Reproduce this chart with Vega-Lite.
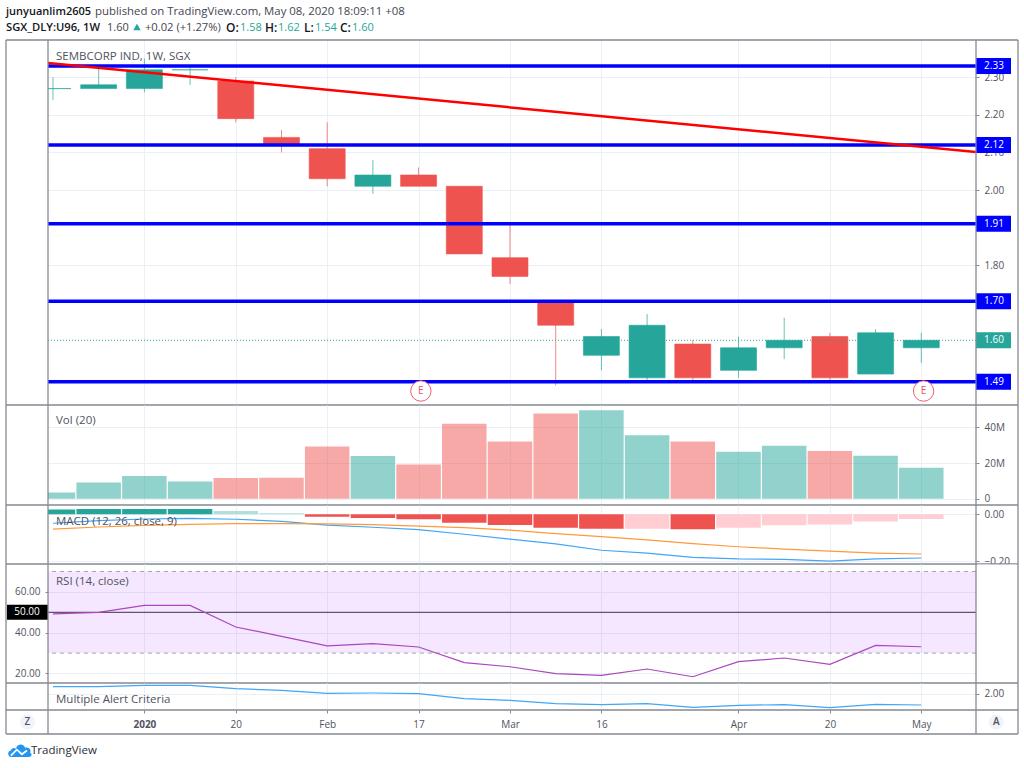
{
  "$schema": "https://vega.github.io/schema/vega-lite/v6.json",
  "padding": {"left": -1, "top": 0, "right": 0, "bottom": 0},
  "background": "white",
  "spacing": 0,
  "bounds": "flush",
  "config": {
    "font": "Open Sans",
    "view": {"stroke": null},
    "scale": {"continuousPadding": 0},
    "axis": {
      "title": null, "labels": false, "ticks": false, "domain": false, "grid": false,
      "gridColor": "#e9f0f6", "gridWidth": 1,
      "labelFont": "Open Sans", "labelFontSize": 10, "labelColor": "#50535e",
      "tickColor": "#868993", "tickSize": 3, "labelPadding": 5, "labelOverlap": false, "labelFlush": false
    },
    "axisX": {"labelPadding": 6}
  },
  "datasets": {
    "one": [{}],
    "bars": [
      {"bar": 0, "date": "2019-12-23", "open": 2.27, "high": 2.30, "low": 2.24, "close": 2.27, "dir": "up", "volume": 3.5, "hist": 0.02, "shade": "up", "macd": -0.038, "signal": -0.063, "rsi": 49.2, "alert": 2.35},
      {"bar": 1, "date": "2019-12-30", "open": 2.27, "high": 2.33, "low": 2.27, "close": 2.28, "dir": "up", "volume": 9.1, "hist": 0.0225, "shade": "up", "macd": -0.027, "signal": -0.054, "rsi": 50.0, "alert": 2.35},
      {"bar": 2, "date": "2020-01-06", "open": 2.27, "high": 2.35, "low": 2.26, "close": 2.32, "dir": "up", "volume": 12.7, "hist": 0.0225, "shade": "up", "macd": -0.02, "signal": -0.047, "rsi": 53.4, "alert": 2.42},
      {"bar": 3, "date": "2020-01-13", "open": 2.32, "high": 2.33, "low": 2.28, "close": 2.32, "dir": "up", "volume": 9.7, "hist": 0.0225, "shade": "up", "macd": -0.017, "signal": -0.043, "rsi": 53.4, "alert": 2.42},
      {"bar": 4, "date": "2020-01-20", "open": 2.29, "high": 2.30, "low": 2.18, "close": 2.19, "dir": "down", "volume": 11.6, "hist": 0.014, "shade": "up-weak", "macd": -0.021, "signal": -0.04, "rsi": 42.8, "alert": 2.25},
      {"bar": 5, "date": "2020-01-27", "open": 2.14, "high": 2.16, "low": 2.10, "close": 2.12, "dir": "down", "volume": 11.8, "hist": 0.005, "shade": "up-weak", "macd": -0.03, "signal": -0.04, "rsi": 38.2, "alert": 2.17},
      {"bar": 6, "date": "2020-02-03", "open": 2.11, "high": 2.18, "low": 2.01, "close": 2.03, "dir": "down", "volume": 29.3, "hist": -0.01, "shade": "down", "macd": -0.046, "signal": -0.041, "rsi": 33.5, "alert": 2.02},
      {"bar": 7, "date": "2020-02-10", "open": 2.01, "high": 2.08, "low": 1.99, "close": 2.04, "dir": "up", "volume": 23.9, "hist": -0.016, "shade": "down", "macd": -0.055, "signal": -0.044, "rsi": 34.6, "alert": 2.035},
      {"bar": 8, "date": "2020-02-17", "open": 2.04, "high": 2.06, "low": 2.01, "close": 2.01, "dir": "down", "volume": 19.2, "hist": -0.021, "shade": "down", "macd": -0.065, "signal": -0.05, "rsi": 33.0, "alert": 2.0},
      {"bar": 9, "date": "2020-02-24", "open": 2.01, "high": 2.01, "low": 1.83, "close": 1.83, "dir": "down", "volume": 42.0, "hist": -0.036, "shade": "down", "macd": -0.085, "signal": -0.057, "rsi": 25.3, "alert": 1.75},
      {"bar": 10, "date": "2020-03-02", "open": 1.82, "high": 1.91, "low": 1.75, "close": 1.77, "dir": "down", "volume": 32.1, "hist": -0.045, "shade": "down", "macd": -0.106, "signal": -0.067, "rsi": 23.3, "alert": 1.67},
      {"bar": 11, "date": "2020-03-09", "open": 1.70, "high": 1.70, "low": 1.48, "close": 1.64, "dir": "down", "volume": 47.8, "hist": -0.057, "shade": "down", "macd": -0.126, "signal": -0.082, "rsi": 19.9, "alert": 1.5},
      {"bar": 12, "date": "2020-03-16", "open": 1.56, "high": 1.63, "low": 1.52, "close": 1.61, "dir": "up", "volume": 49.5, "hist": -0.062, "shade": "down", "macd": -0.153, "signal": -0.095, "rsi": 19.1, "alert": 1.45},
      {"bar": 13, "date": "2020-03-23", "open": 1.50, "high": 1.67, "low": 1.49, "close": 1.64, "dir": "up", "volume": 35.5, "hist": -0.061, "shade": "down-weak", "macd": -0.165, "signal": -0.109, "rsi": 22.2, "alert": 1.5},
      {"bar": 14, "date": "2020-03-30", "open": 1.59, "high": 1.60, "low": 1.49, "close": 1.50, "dir": "down", "volume": 32.1, "hist": -0.064, "shade": "down", "macd": -0.183, "signal": -0.125, "rsi": 18.4, "alert": 1.32},
      {"bar": 15, "date": "2020-04-06", "open": 1.52, "high": 1.61, "low": 1.50, "close": 1.58, "dir": "up", "volume": 26.3, "hist": -0.057, "shade": "down-weak", "macd": -0.19, "signal": -0.138, "rsi": 25.8, "alert": 1.42},
      {"bar": 16, "date": "2020-04-13", "open": 1.58, "high": 1.66, "low": 1.55, "close": 1.60, "dir": "up", "volume": 29.7, "hist": -0.047, "shade": "down-weak", "macd": -0.192, "signal": -0.148, "rsi": 27.6, "alert": 1.45},
      {"bar": 17, "date": "2020-04-20", "open": 1.61, "high": 1.62, "low": 1.49, "close": 1.50, "dir": "down", "volume": 26.7, "hist": -0.043, "shade": "down-weak", "macd": -0.199, "signal": -0.157, "rsi": 24.5, "alert": 1.3},
      {"bar": 18, "date": "2020-04-27", "open": 1.51, "high": 1.63, "low": 1.51, "close": 1.62, "dir": "up", "volume": 24.1, "hist": -0.031, "shade": "down-weak", "macd": -0.19, "signal": -0.165, "rsi": 33.8, "alert": 1.47},
      {"bar": 19, "date": "2020-05-04", "open": 1.58, "high": 1.62, "low": 1.54, "close": 1.60, "dir": "up", "volume": 17.4, "hist": -0.02, "shade": "down-weak", "macd": -0.186, "signal": -0.169, "rsi": 33.1, "alert": 1.435}
    ],
    "levels": [{"level": 2.33}, {"level": 2.12}, {"level": 1.91}, {"level": 1.704}, {"level": 1.49}],
    "trend": [{"bar": -0.109, "price": 2.338}, {"bar": 20.197, "price": 2.101}],
    "earnings": [{"bar": 8.05, "price": 1.465, "label": "E"}, {"bar": 19.05, "price": 1.465, "label": "E"}]
  },
  "vconcat": [
    {
      "width": 928, "height": 40,
      "data": {"name": "one"},
      "layer": [
        {"mark": {"type": "text", "align": "left", "fontWeight": 600, "fontSize": 11, "color": "#131722"}, "encoding": {
          "x": {"datum": -1.028, "scale": {"domain": [-0.109, 20.197], "nice": false, "zero": false}},
          "y": {"datum": 11.5, "scale": {"domain": [40, 0], "nice": false, "zero": false}},
          "text": {"value": "junyuanlim2605"}}},
        {"mark": {"type": "text", "align": "left", "fontSize": 11.4, "color": "#434651"}, "encoding": {"x": {"datum": 0.919}, "y": {"datum": 11.5}, "text": {"value": "published on TradingView.com, May 08, 2020 18:09:11 +08"}}},
        {"mark": {"type": "text", "align": "left", "fontWeight": 600, "fontSize": 11.2, "color": "#131722"}, "encoding": {"x": {"datum": -1.028}, "y": {"datum": 27.5}, "text": {"value": "SGX_DLY:U96, 1W"}}},
        {"mark": {"type": "text", "align": "left", "fontSize": 11, "color": "#434651"}, "encoding": {"x": {"datum": 1.182}, "y": {"datum": 27.5}, "text": {"value": "1.60"}}},
        {"mark": {"type": "point", "shape": "triangle-up", "filled": true, "size": 55, "opacity": 1, "color": "#26a69a"}, "encoding": {"x": {"datum": 1.838}, "y": {"datum": 27}}},
        {"mark": {"type": "text", "align": "left", "fontSize": 11.2, "color": "#434651"}, "encoding": {"x": {"datum": 2.013}, "y": {"datum": 27.5}, "text": {"value": "+0.02 (+1.27%)"}}},
        {"mark": {"type": "text", "align": "left", "fontWeight": 600, "fontSize": 12, "color": "#131722"}, "encoding": {"x": {"datum": 3.786}, "y": {"datum": 27.5}, "text": {"value": "O:"}}},
        {"mark": {"type": "text", "align": "left", "fontSize": 11, "color": "#26a69a"}, "encoding": {"x": {"datum": 4.092}, "y": {"datum": 27.5}, "text": {"value": "1.58"}}},
        {"mark": {"type": "text", "align": "left", "fontWeight": 600, "fontSize": 12, "color": "#131722"}, "encoding": {"x": {"datum": 4.639}, "y": {"datum": 27.5}, "text": {"value": "H:"}}},
        {"mark": {"type": "text", "align": "left", "fontSize": 11, "color": "#26a69a"}, "encoding": {"x": {"datum": 4.923}, "y": {"datum": 27.5}, "text": {"value": "1.62"}}},
        {"mark": {"type": "text", "align": "left", "fontWeight": 600, "fontSize": 12, "color": "#131722"}, "encoding": {"x": {"datum": 5.492}, "y": {"datum": 27.5}, "text": {"value": "L:"}}},
        {"mark": {"type": "text", "align": "left", "fontSize": 11, "color": "#26a69a"}, "encoding": {"x": {"datum": 5.733}, "y": {"datum": 27.5}, "text": {"value": "1.54"}}},
        {"mark": {"type": "text", "align": "left", "fontWeight": 600, "fontSize": 12, "color": "#131722"}, "encoding": {"x": {"datum": 6.28}, "y": {"datum": 27.5}, "text": {"value": "C:"}}},
        {"mark": {"type": "text", "align": "left", "fontSize": 11, "color": "#26a69a"}, "encoding": {"x": {"datum": 6.543}, "y": {"datum": 27.5}, "text": {"value": "1.60"}}}
      ]
    },
    {
      "width": 928, "height": 365,
      "layer": [
        {"data": {"name": "bars"}, "mark": {"type": "rule", "strokeWidth": 1, "opacity": 0.7}, "encoding": {
          "x": {"field": "bar", "type": "quantitative", "scale": {"domain": [-0.109, 20.197], "nice": false, "zero": false},
            "axis": {"grid": true, "title": null, "values": [2, 4, 6, 8, 10, 12, 15, 17, 19]}},
          "y": {"field": "low", "type": "quantitative", "scale": {"domain": [1.4278, 2.3993], "nice": false, "zero": false},
            "axis": {"orient": "right", "title": null, "grid": true, "labels": true, "ticks": true, "format": ".2f", "values": [1.8, 2.0, 2.1, 2.2, 2.3]}},
          "y2": {"field": "high"},
          "color": {"field": "dir", "type": "nominal", "legend": null, "scale": {"domain": ["up", "down", "up-weak", "down-weak"], "range": ["#26a69a", "#ef5350", "#b2dfdb", "#ffcdd2"]}}}},
        {"data": {"name": "bars"}, "mark": {"type": "bar", "width": 36, "clip": true, "strokeWidth": 1, "strokeOpacity": 0.6}, "encoding": {
          "x": {"field": "bar", "type": "quantitative"},
          "y": {"field": "open", "type": "quantitative"},
          "y2": {"field": "close"},
          "color": {"field": "dir", "type": "nominal", "legend": null},
          "stroke": {"field": "dir", "type": "nominal", "legend": null, "scale": {"domain": ["up", "down"], "range": ["#26a69a", "#ef5350"]}}}},
        {"data": {"name": "one"}, "mark": {"type": "rule", "color": "#26a69a", "strokeWidth": 1, "strokeDash": [1, 2]}, "encoding": {"y": {"datum": 1.6}}},
        {"data": {"name": "levels"}, "mark": {"type": "rule", "color": "#0000ff", "strokeWidth": 3.5}, "encoding": {"y": {"field": "level", "type": "quantitative"}}},
        {"data": {"name": "trend"}, "mark": {"type": "line", "color": "#ff0000", "strokeWidth": 2.5}, "encoding": {"x": {"field": "bar", "type": "quantitative"}, "y": {"field": "price", "type": "quantitative"}}},
        {"data": {"name": "earnings"}, "mark": {"type": "point", "filled": true, "fill": "white", "stroke": "#f4606c", "strokeWidth": 1, "size": 415, "opacity": 1}, "encoding": {"x": {"field": "bar", "type": "quantitative"}, "y": {"field": "price", "type": "quantitative"}}},
        {"data": {"name": "earnings"}, "mark": {"type": "text", "color": "#ef5350", "fontSize": 10}, "encoding": {"x": {"field": "bar", "type": "quantitative"}, "y": {"field": "price", "type": "quantitative"}, "text": {"field": "label"}}},
        {"data": {"name": "one"}, "mark": {"type": "text", "align": "left", "dy": 1.5, "fontSize": 11.5, "color": "#50535e"}, "encoding": {"x": {"datum": 0.066}, "y": {"datum": 2.359}, "text": {"value": "SEMBCORP IND, 1W, SGX"}}},
        {"data": {"name": "levels"}, "mark": {"type": "rule", "color": "#0000ff", "strokeWidth": 16}, "encoding": {"x": {"datum": 20.197}, "x2": {"datum": 20.963}, "y": {"field": "level", "type": "quantitative"}}},
        {"data": {"name": "levels"}, "mark": {"type": "text", "color": "white", "fontSize": 10}, "encoding": {"x": {"datum": 20.59}, "y": {"field": "level", "type": "quantitative"}, "text": {"field": "level", "type": "quantitative", "format": ".2f"}}},
        {"data": {"name": "one"}, "mark": {"type": "rule", "color": "#26a69a", "strokeWidth": 16}, "encoding": {"x": {"datum": 20.197}, "x2": {"datum": 20.963}, "y": {"datum": 1.6}}},
        {"data": {"name": "one"}, "mark": {"type": "text", "color": "white", "fontSize": 10}, "encoding": {"x": {"datum": 20.59}, "y": {"datum": 1.6}, "text": {"value": "1.60"}}},
        {"data": {"name": "one"}, "mark": {"type": "rule", "color": "#868993", "strokeWidth": 1.3}, "encoding": {"x": {"datum": -1.028}, "x2": {"datum": 21.116}, "y": {"datum": 2.3993}}},
        {"data": {"name": "one"}, "mark": {"type": "rule", "color": "#868993", "strokeWidth": 1.3}, "encoding": {"x": {"datum": -1.028}, "x2": {"datum": 21.116}, "y": {"datum": 1.4278}}},
        {"data": {"name": "one"}, "mark": {"type": "rule", "color": "#868993", "strokeWidth": 1.3}, "encoding": {"x": {"datum": -1.028}}},
        {"data": {"name": "one"}, "mark": {"type": "rule", "color": "#868993", "strokeWidth": 1.3}, "encoding": {"x": {"datum": -0.109}}},
        {"data": {"name": "one"}, "mark": {"type": "rule", "color": "#868993", "strokeWidth": 1.3}, "encoding": {"x": {"datum": 20.197}}},
        {"data": {"name": "one"}, "mark": {"type": "rule", "color": "#868993", "strokeWidth": 1.3}, "encoding": {"x": {"datum": 21.116}}}
      ]
    },
    {
      "width": 928, "height": 100,
      "layer": [
        {"data": {"name": "bars"}, "mark": {"type": "bar", "width": 44.5, "clip": true, "opacity": 0.5}, "encoding": {
          "x": {"field": "bar", "type": "quantitative", "scale": {"domain": [-0.109, 20.197], "nice": false, "zero": false},
            "axis": {"grid": true, "title": null, "values": [2, 4, 6, 8, 10, 12, 15, 17, 19]}},
          "y": {"field": "volume", "type": "quantitative", "scale": {"domain": [-3.53, 52.5], "nice": false, "zero": false},
            "axis": {"orient": "right", "title": null, "grid": true, "labels": true, "ticks": true, "values": [0, 20, 40], "labelExpr": "datum.value == 0 ? '0' : datum.value + 'M'"}},
          "y2": {"datum": 0},
          "color": {"field": "dir", "type": "nominal", "legend": null}}},
        {"data": {"name": "one"}, "mark": {"type": "text", "align": "left", "dy": 1.5, "fontSize": 11.5, "color": "#50535e"}, "encoding": {"x": {"datum": 0.066}, "y": {"datum": 44.2}, "text": {"value": "Vol (20)"}}},
        {"data": {"name": "one"}, "mark": {"type": "rule", "color": "#868993", "strokeWidth": 1.3}, "encoding": {"x": {"datum": -1.028}, "x2": {"datum": 21.116}, "y": {"datum": -3.53}}},
        {"data": {"name": "one"}, "mark": {"type": "rule", "color": "#868993", "strokeWidth": 1.3}, "encoding": {"x": {"datum": -1.028}}},
        {"data": {"name": "one"}, "mark": {"type": "rule", "color": "#868993", "strokeWidth": 1.3}, "encoding": {"x": {"datum": -0.109}}},
        {"data": {"name": "one"}, "mark": {"type": "rule", "color": "#868993", "strokeWidth": 1.3}, "encoding": {"x": {"datum": 20.197}}},
        {"data": {"name": "one"}, "mark": {"type": "rule", "color": "#868993", "strokeWidth": 1.3}, "encoding": {"x": {"datum": 21.116}}}
      ]
    },
    {
      "width": 928, "height": 59,
      "layer": [
        {"data": {"name": "bars"}, "mark": {"type": "bar", "width": 44.5, "clip": true}, "encoding": {
          "x": {"field": "bar", "type": "quantitative", "scale": {"domain": [-0.109, 20.197], "nice": false, "zero": false},
            "axis": {"grid": true, "title": null, "values": [2, 4, 6, 8, 10, 12, 15, 17, 19]}},
          "y": {"field": "hist", "type": "quantitative", "scale": {"domain": [-0.2115, 0.0396], "nice": false, "zero": false},
            "axis": {"orient": "right", "title": null, "grid": true, "labels": true, "ticks": true, "format": ".2f", "values": [0, -0.2]}},
          "y2": {"datum": 0},
          "color": {"field": "shade", "type": "nominal", "legend": null}}},
        {"data": {"name": "bars"}, "mark": {"type": "line", "color": "#42a5f5", "strokeWidth": 1.2}, "encoding": {"x": {"field": "bar", "type": "quantitative"}, "y": {"field": "macd", "type": "quantitative"}}},
        {"data": {"name": "bars"}, "mark": {"type": "line", "color": "#ff9a3c", "strokeWidth": 1.2}, "encoding": {"x": {"field": "bar", "type": "quantitative"}, "y": {"field": "signal", "type": "quantitative"}}},
        {"data": {"name": "one"}, "mark": {"type": "text", "align": "left", "dy": 1.5, "fontSize": 11.5, "color": "#50535e"}, "encoding": {"x": {"datum": 0.066}, "y": {"datum": -0.026}, "text": {"value": "MACD (12, 26, close, 9)"}}},
        {"data": {"name": "one"}, "mark": {"type": "rule", "color": "#868993", "strokeWidth": 1.3}, "encoding": {"x": {"datum": -1.028}, "x2": {"datum": 21.116}, "y": {"datum": -0.2115}}},
        {"data": {"name": "one"}, "mark": {"type": "rule", "color": "#868993", "strokeWidth": 1.3}, "encoding": {"x": {"datum": -1.028}}},
        {"data": {"name": "one"}, "mark": {"type": "rule", "color": "#868993", "strokeWidth": 1.3}, "encoding": {"x": {"datum": -0.109}}},
        {"data": {"name": "one"}, "mark": {"type": "rule", "color": "#868993", "strokeWidth": 1.3}, "encoding": {"x": {"datum": 20.197}}},
        {"data": {"name": "one"}, "mark": {"type": "rule", "color": "#868993", "strokeWidth": 1.3}, "encoding": {"x": {"datum": 21.116}}}
      ]
    },
    {
      "width": 928, "height": 119,
      "layer": [
        {"data": {"name": "one"}, "mark": {"type": "rect", "color": "#9b26ff", "opacity": 0.11}, "encoding": {
          "x": {"datum": -0.109, "scale": {"domain": [-0.109, 20.197], "nice": false, "zero": false},
            "axis": {"grid": true, "title": null, "values": [2, 4, 6, 8, 10, 12, 15, 17, 19]}},
          "x2": {"datum": 20.197},
          "y": {"datum": 70, "scale": {"domain": [15.34, 73.68], "nice": false, "zero": false},
            "axis": {"orient": "left", "title": null, "grid": true, "labels": true, "ticks": true, "format": ".2f", "values": [20, 40, 60]}},
          "y2": {"datum": 30}}},
        {"data": {"name": "one"}, "mark": {"type": "rule", "color": "#a3a6af", "strokeWidth": 1, "strokeDash": [4, 4]}, "encoding": {"y": {"datum": 70}}},
        {"data": {"name": "one"}, "mark": {"type": "rule", "color": "#a3a6af", "strokeWidth": 1, "strokeDash": [4, 4]}, "encoding": {"y": {"datum": 30}}},
        {"data": {"name": "one"}, "mark": {"type": "rule", "color": "#3a3542", "strokeWidth": 1}, "encoding": {"y": {"datum": 50}}},
        {"data": {"name": "bars"}, "mark": {"type": "line", "color": "#ab47bc", "strokeWidth": 1.2}, "encoding": {"x": {"field": "bar", "type": "quantitative"}, "y": {"field": "rsi", "type": "quantitative"}}},
        {"data": {"name": "one"}, "mark": {"type": "text", "align": "left", "dy": 1.5, "fontSize": 11.5, "color": "#50535e"}, "encoding": {"x": {"datum": 0.066}, "y": {"datum": 65.8}, "text": {"value": "RSI (14, close)"}}},
        {"data": {"name": "one"}, "mark": {"type": "rule", "color": "black", "strokeWidth": 15}, "encoding": {"x": {"datum": -1.006}, "x2": {"datum": -0.109}, "y": {"datum": 50}}},
        {"data": {"name": "one"}, "mark": {"type": "text", "color": "white", "fontSize": 10}, "encoding": {"x": {"datum": -0.569}, "y": {"datum": 50}, "text": {"value": "50.00"}}},
        {"data": {"name": "one"}, "mark": {"type": "rule", "color": "white", "strokeWidth": 9}, "encoding": {"x": {"datum": 20.219}, "x2": {"datum": 21.09}, "y": {"datum": 71.2}}},
        {"data": {"name": "one"}, "mark": {"type": "rule", "color": "#868993", "strokeWidth": 1.3}, "encoding": {"x": {"datum": -1.028}, "x2": {"datum": 21.116}, "y": {"datum": 15.34}}},
        {"data": {"name": "one"}, "mark": {"type": "rule", "color": "#868993", "strokeWidth": 1.3}, "encoding": {"x": {"datum": -1.028}}},
        {"data": {"name": "one"}, "mark": {"type": "rule", "color": "#868993", "strokeWidth": 1.3}, "encoding": {"x": {"datum": -0.109}}},
        {"data": {"name": "one"}, "mark": {"type": "rule", "color": "#868993", "strokeWidth": 1.3}, "encoding": {"x": {"datum": 20.197}}},
        {"data": {"name": "one"}, "mark": {"type": "rule", "color": "#868993", "strokeWidth": 1.3}, "encoding": {"x": {"datum": 21.116}}}
      ]
    },
    {
      "width": 928, "height": 27,
      "layer": [
        {"data": {"name": "bars"}, "mark": {"type": "line", "color": "#42a5f5", "strokeWidth": 1.2}, "encoding": {
          "x": {"field": "bar", "type": "quantitative", "scale": {"domain": [-0.109, 20.197], "nice": false, "zero": false},
            "axis": {"grid": true, "title": null, "ticks": true, "labels": true, "values": [2, 4, 6, 8, 10, 12, 15, 17, 19],
              "labelExpr": "['', '', '2020', '', '20', '', 'Feb', '', '17', '', 'Mar', '', '16', '', '', 'Apr', '', '20', '', 'May'][datum.value]",
              "labelFontWeight": {"condition": {"test": "datum.value == 2", "value": "bold"}, "value": "normal"}}},
          "y": {"field": "alert", "type": "quantitative", "scale": {"domain": [1.185, 2.535], "nice": false, "zero": false},
            "axis": {"orient": "right", "title": null, "grid": true, "labels": true, "ticks": true, "format": ".2f", "values": [2]}}}},
        {"data": {"name": "one"}, "mark": {"type": "text", "align": "left", "dy": 1.5, "fontSize": 11.5, "color": "#50535e"}, "encoding": {"x": {"datum": 0.066}, "y": {"datum": 1.77}, "text": {"value": "Multiple Alert Criteria"}}},
        {"data": {"name": "one"}, "mark": {"type": "rule", "color": "#868993", "strokeWidth": 1.3}, "encoding": {"x": {"datum": -1.028}, "x2": {"datum": 21.116}, "y": {"datum": 1.185}}},
        {"data": {"name": "one"}, "mark": {"type": "rule", "color": "#868993", "strokeWidth": 1.3}, "encoding": {"x": {"datum": -1.028}}},
        {"data": {"name": "one"}, "mark": {"type": "rule", "color": "#868993", "strokeWidth": 1.3}, "encoding": {"x": {"datum": -0.109}}},
        {"data": {"name": "one"}, "mark": {"type": "rule", "color": "#868993", "strokeWidth": 1.3}, "encoding": {"x": {"datum": 20.197}}},
        {"data": {"name": "one"}, "mark": {"type": "rule", "color": "#868993", "strokeWidth": 1.3}, "encoding": {"x": {"datum": 21.116}}}
      ]
    },
    {
      "width": 928, "height": 58,
      "data": {"name": "one"},
      "layer": [
        {"mark": {"type": "rule", "color": "#868993", "strokeWidth": 1.3}, "encoding": {
          "x": {"datum": -1.028, "scale": {"domain": [-0.109, 20.197], "nice": false, "zero": false}},
          "x2": {"datum": 21.116},
          "y": {"datum": 24, "scale": {"domain": [58, 0], "nice": false, "zero": false}}}},
        {"mark": {"type": "rule", "color": "#868993", "strokeWidth": 1.3}, "encoding": {"x": {"datum": -1.028}, "y": {"datum": 0}, "y2": {"datum": 24}}},
        {"mark": {"type": "rule", "color": "#868993", "strokeWidth": 1.3}, "encoding": {"x": {"datum": -0.109}, "y": {"datum": 0}, "y2": {"datum": 24}}},
        {"mark": {"type": "rule", "color": "#868993", "strokeWidth": 1.3}, "encoding": {"x": {"datum": 20.197}, "y": {"datum": 0}, "y2": {"datum": 24}}},
        {"mark": {"type": "rule", "color": "#868993", "strokeWidth": 1.3}, "encoding": {"x": {"datum": 21.116}, "y": {"datum": 0}, "y2": {"datum": 24}}},
        {"mark": {"type": "point", "filled": true, "size": 227, "opacity": 1, "color": "#f0f3fa"}, "encoding": {"x": {"datum": -0.558}, "y": {"datum": 12}}},
        {"mark": {"type": "text", "color": "#50535e", "fontSize": 10, "fontWeight": 600}, "encoding": {"x": {"datum": -0.558}, "y": {"datum": 12}, "text": {"value": "Z"}}},
        {"mark": {"type": "point", "filled": true, "size": 227, "opacity": 1, "color": "#f0f3fa"}, "encoding": {"x": {"datum": 20.64}, "y": {"datum": 12}}},
        {"mark": {"type": "text", "color": "#50535e", "fontSize": 10, "fontWeight": 600}, "encoding": {"x": {"datum": 20.64}, "y": {"datum": 12}, "text": {"value": "A"}}},
        {"mark": {"type": "point", "filled": true, "size": 2116, "opacity": 1, "color": "#2196f3", "shape": "M-0.42,0.26C-0.55,0.2-0.55,0.0-0.4,-0.02C-0.38,-0.14-0.25,-0.16-0.18,-0.1C-0.12,-0.32 0.14,-0.34 0.22,-0.14C0.38,-0.2 0.5,-0.05 0.44,0.08C0.55,0.14 0.5,0.26 0.38,0.26Z"}, "encoding": {"x": {"datum": -0.72}, "y": {"datum": 41}}},
        {"mark": {"type": "point", "filled": false, "size": 2116, "opacity": 1, "stroke": "white", "strokeWidth": 1.8, "shape": "M-0.4,0.2L-0.14,-0.06L0.08,0.14L0.3,-0.02"}, "encoding": {"x": {"datum": -0.72}, "y": {"datum": 41}}},
        {"mark": {"type": "text", "align": "left", "fontSize": 11.5, "color": "#2a2e39"}, "encoding": {"x": {"datum": -0.481}, "y": {"datum": 41}, "text": {"value": "TradingView"}}}
      ]
    }
  ]
}
